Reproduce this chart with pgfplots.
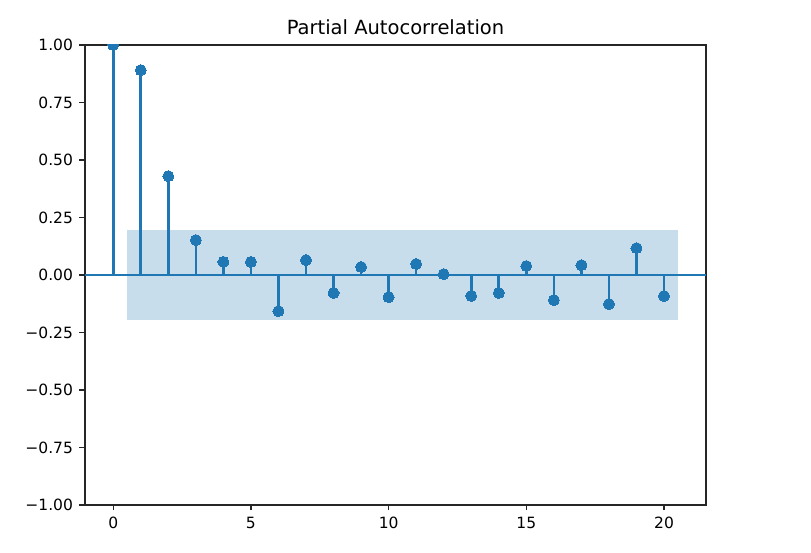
\documentclass[border=0pt]{standalone}
\usepackage{pgfplots}
\pgfplotsset{compat=1.18}
\usepackage{fontspec}
\setmainfont{DejaVu Sans}
\definecolor{c0}{HTML}{1F77B4}
\begin{document}
\begin{tikzpicture}[x=1pt,y=1pt]
\path[use as bounding box] (-85,-48) rectangle (726,505);
\begin{axis}[
  at={(0,0)}, anchor=south west,
  scale only axis, width=621pt, height=460pt,
  xmin=-1.025, xmax=21.525, ymin=-1, ymax=1,
  clip marker paths=true,
  axis line style={line width=1.2pt, black!85},
  tick align=outside, tick style={line width=1.2pt, black!85},
  major tick length=5.5pt,
  xtick={0,5,10,15,20}, xticklabels={0,5,10,15,20},
  ytick={-1,-0.75,-0.5,-0.25,0,0.25,0.5,0.75,1},
  yticklabels={−1.00,−0.75,−0.50,−0.25,0.00,0.25,0.50,0.75,1.00},
  xtick pos=bottom, ytick pos=left,
  ticklabel style={font=\fontsize{15.5}{18}\selectfont},
  yticklabel style={xshift=-3pt},
  xticklabel style={yshift=-3pt},
  title={Partial Autocorrelation},
  title style={font=\fontsize{19.5}{22}\selectfont, at={(0.5,1)}, anchor=south, yshift=1pt},
]
\addplot[fill=c0, fill opacity=0.25, draw=none] coordinates {(0.5,-0.196)(20.5,-0.196)(20.5,0.196)(0.5,0.196)} -- cycle;
\addplot[c0, line width=2.2pt] coordinates {(-1.025,0)(21.525,0)};
\addplot[ycomb, c0, line width=2.6pt, mark=*, mark size=5.5pt, mark options={c0, fill=c0, line width=0pt}] coordinates {
(0,1.0)(1,0.891)(2,0.430)(3,0.152)(4,0.057)(5,0.057)(6,-0.157)(7,0.065)(8,-0.078)(9,0.035)(10,-0.096)
(11,0.048)(12,0.004)(13,-0.091)(14,-0.078)(15,0.039)(16,-0.109)(17,0.043)(18,-0.126)(19,0.117)(20,-0.091)};
\end{axis}
\end{tikzpicture}
\end{document}
